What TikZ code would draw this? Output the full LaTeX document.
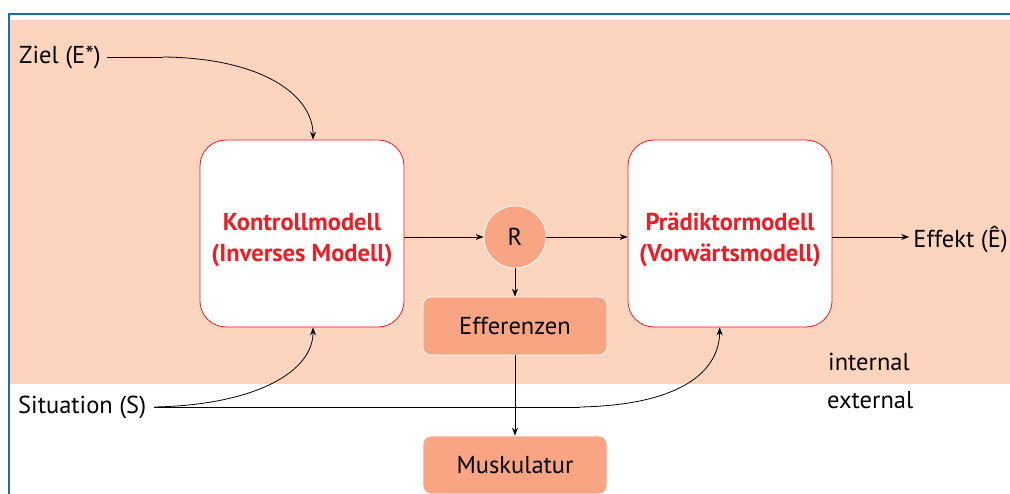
\documentclass[tikz,border=0pt]{standalone}
\usepackage{fontspec}
\setmainfont{PT Sans}
\usetikzlibrary{arrows.meta,calc}
\definecolor{frameblue}{HTML}{1F6BAE}
\definecolor{peach}{HTML}{FDD5BE}
\definecolor{salmon}{HTML}{F9A583}
\definecolor{modelred}{HTML}{EE1C25}
\tikzset{
  txt/.style={font=\fontsize{24.5}{28}\selectfont, inner sep=0pt},
  model/.style={draw=modelred, line width=0.8pt, fill=white, rounded corners=26pt,
    minimum width=204pt, minimum height=187pt},
  modeltext/.style={align=center, inner sep=0pt,
    font=\fontsize{24.5}{31}\selectfont\bfseries, text=modelred},
  effbox/.style={draw=white, line width=0.8pt, fill=salmon, rounded corners=8pt,
    minimum width=184pt, minimum height=58pt, font=\fontsize{24.5}{28}\selectfont},
  rnode/.style={circle, draw=white, line width=0.8pt, fill=salmon, minimum size=62pt,
    inner sep=0pt, font=\fontsize{24.5}{28}\selectfont},
  conn/.style={line width=0.8pt, -{Stealth[length=8pt,width=6pt]}},
  plain/.style={line width=0.8pt}
}
\begin{document}
\begin{tikzpicture}[x=1pt,y=-1pt]
  \useasboundingbox (0,0) rectangle (1010,494);
  \clip (0,0) rectangle (1010,494);
  % background regions and frame
  \fill[peach] (10,20) rectangle (1012,384);
  \draw[frameblue, line width=1.4pt] (1012,14) -- (9,14) -- (9,496);

  % boxes
  \node[model] (kontroll) at (302,233.5) {};
  \node[modeltext] (kontrolltext) at (302,240) {Kontrollmodell\\(Inverses Modell)};
  \node[model] (praed) at (730,233.5) {};
  \node[modeltext] (praedtext) at (730,240) {Prädiktormodell\\(Vorwärtsmodell)};
  \node[rnode] (r) at (515,237) {R};
  \node[effbox] (eff) at (515,326) {Efferenzen};
  \node[effbox] (musk) at (515,465) {Muskulatur};

  % labels
  \node[txt, anchor=west] (ziel) at (19,57) {Ziel (E*)};
  \node[txt, anchor=west] (sit) at (18,407) {Situation (S)};
  \node[txt, anchor=east] (effekt) at (1008,240) {Effekt (\^{E})};
  \node[txt, anchor=west] (intl) at (828,362) {internal};
  \node[txt, anchor=west] (extl) at (827,400) {external};

  % anchor points for the curved inputs
  \coordinate (kin) at ($(kontroll.north west)!0.554!(kontroll.north east)$);
  \coordinate (kinb) at ($(kontroll.south west)!0.554!(kontroll.south east)$);
  \coordinate (pin) at ($(praed.south west)!0.45!(praed.south east)$);
  \coordinate (zbend) at (163,57);
  \coordinate (sstart) at ($(sit.east)+(8,0)$);
  \coordinate (sbend) at (580,407);

  % connectors
  \draw[plain] ($(ziel.east)+(6,0)$) -- (zbend);
  \draw[conn] (zbend) .. controls (262,58) and (313,95) .. (kin);
  \draw[conn] (sstart) .. controls (255,405) and (313,372) .. (kinb);
  \draw[plain] (sstart) -- (sbend);
  \draw[conn] (sbend) .. controls (680,405) and (719,372) .. (pin);
  \draw[conn] (kontroll.east |- r.west) -- (r.west);
  \draw[conn] (r.east) -- (praed.west |- r.east);
  \draw[conn] (praed.east |- r.east) -- ($(effekt.west |- r.east)+(-4,0)$);
  \draw[conn] (r.south) -- (eff.north);
  \draw[conn] (eff.south) -- (musk.north);
\end{tikzpicture}
\end{document}
